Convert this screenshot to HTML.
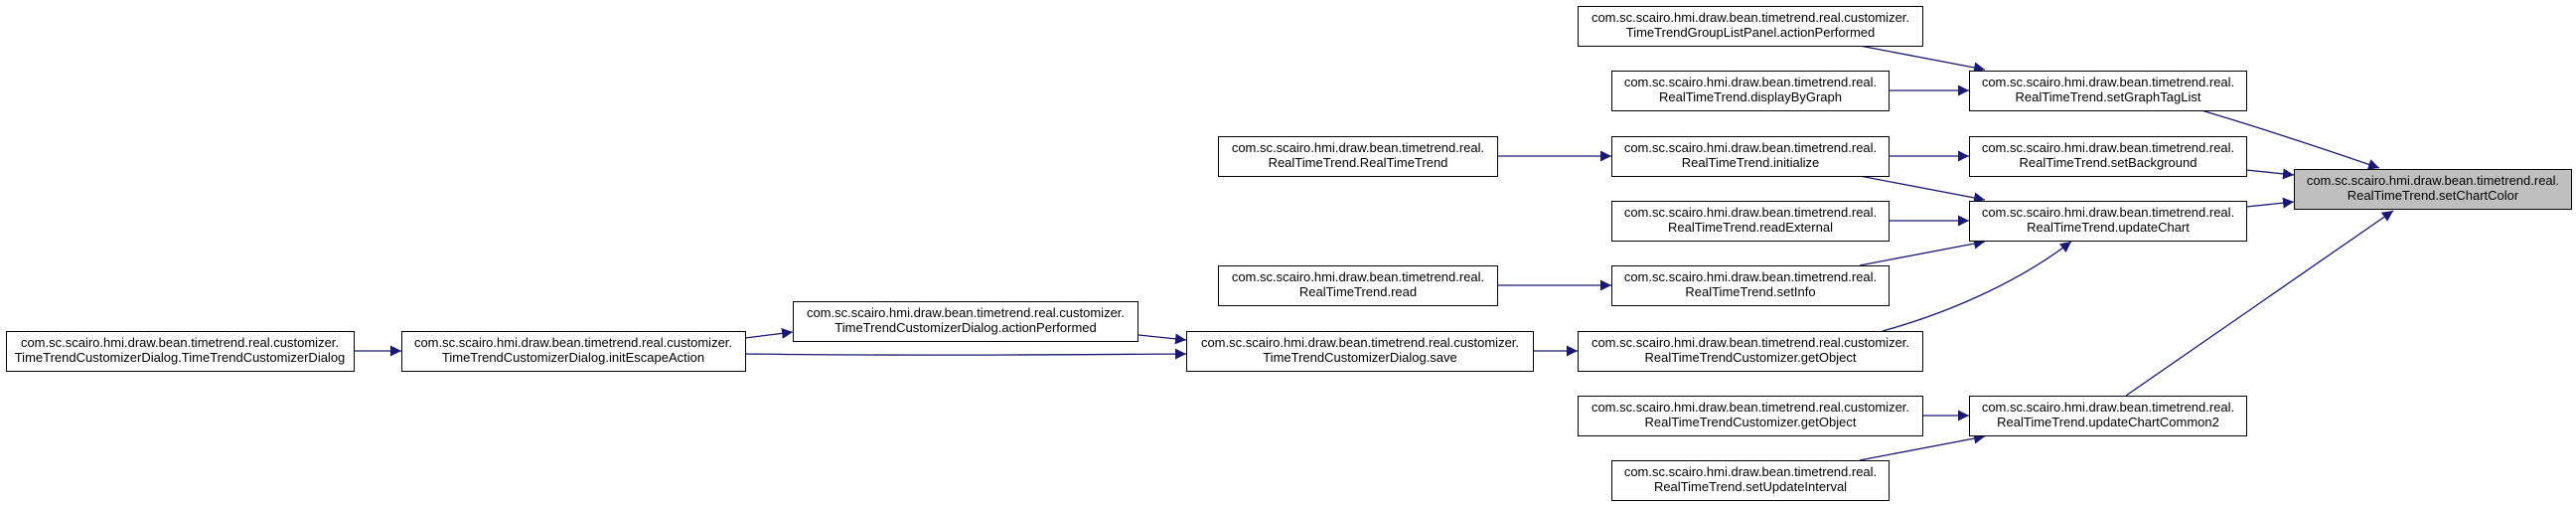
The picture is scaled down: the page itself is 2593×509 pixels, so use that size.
<!DOCTYPE html>
<html><head><meta charset="utf-8"><style>
html,body{margin:0;padding:0;background:#fff;}
svg{display:block;}
text{font-family:"Liberation Sans",Arial,sans-serif;font-size:13px;fill:#000;}
</style></head><body>
<svg width="2593" height="509" viewBox="0 0 2593 509" xmlns="http://www.w3.org/2000/svg">
<defs>
<marker id="a" viewBox="0 0 10 10" refX="10" refY="5" markerWidth="11" markerHeight="11" markerUnits="userSpaceOnUse" orient="auto">
<path d="M0,0 L10,5 L0,10 z" fill="#191970"/>
</marker>
</defs>
<g stroke="#191970" stroke-width="1.3" fill="none" marker-end="url(#a)">
<path d="M1872,46 L1998,70"/>
<path d="M1901,91 L1982,91"/>
<path d="M1507,157 L1622,157"/>
<path d="M1901,157 L1982,157"/>
<path d="M1872,177 L1998,201"/>
<path d="M1901,222 L1982,222"/>
<path d="M1872,267 L1998,243"/>
<path d="M1895,333 C1960,315 2030,285 2085,243"/>
<path d="M1507,287 L1622,287"/>
<path d="M1543,353 L1588,353"/>
<path d="M750,340 L798,334"/>
<path d="M1146,337 L1194,342"/>
<path d="M750,356 C900,358 1050,357 1194,356"/>
<path d="M356,353 L404,353"/>
<path d="M1935,418 L1982,418"/>
<path d="M1872,463 L1998,439"/>
<path d="M2216,111 C2280,130 2340,150 2395,169"/>
<path d="M2261,171 L2309,176"/>
<path d="M2261,208 L2309,203"/>
<path d="M2140,398 L2409,212"/>
</g>
<g stroke="#000" stroke-width="1" fill="#fff">
<rect x="1588.5" y="6.5" width="347" height="40"/>
<rect x="1622.5" y="71.5" width="279" height="40"/>
<rect x="1622.5" y="137.5" width="279" height="40"/>
<rect x="1622.5" y="202.5" width="279" height="40"/>
<rect x="1622.5" y="267.5" width="279" height="40"/>
<rect x="1588.5" y="333.5" width="347" height="40"/>
<rect x="1588.5" y="398.5" width="347" height="40"/>
<rect x="1622.5" y="463.5" width="279" height="40"/>
<rect x="1982.5" y="71.5" width="279" height="40"/>
<rect x="1982.5" y="137.5" width="279" height="40"/>
<rect x="1982.5" y="202.5" width="279" height="40"/>
<rect x="1982.5" y="398.5" width="279" height="40"/>
<rect x="2309.5" y="170.5" width="279" height="40" fill="#bfbfbf"/>
<rect x="1226.5" y="137.5" width="281" height="40"/>
<rect x="1226.5" y="267.5" width="281" height="40"/>
<rect x="798.5" y="303.5" width="347" height="40"/>
<rect x="1194.5" y="333.5" width="349" height="40"/>
<rect x="404.5" y="333.5" width="346" height="40"/>
<rect x="6.5" y="333.5" width="350" height="40"/>
</g>
<g text-anchor="middle">
<text x="1762" y="22">com.sc.scairo.hmi.draw.bean.timetrend.real.customizer.</text><text x="1762" y="37">TimeTrendGroupListPanel.actionPerformed</text>
<text x="1762" y="87">com.sc.scairo.hmi.draw.bean.timetrend.real.</text><text x="1762" y="102">RealTimeTrend.displayByGraph</text>
<text x="1762" y="153">com.sc.scairo.hmi.draw.bean.timetrend.real.</text><text x="1762" y="168">RealTimeTrend.initialize</text>
<text x="1762" y="218">com.sc.scairo.hmi.draw.bean.timetrend.real.</text><text x="1762" y="233">RealTimeTrend.readExternal</text>
<text x="1762" y="283">com.sc.scairo.hmi.draw.bean.timetrend.real.</text><text x="1762" y="298">RealTimeTrend.setInfo</text>
<text x="1762" y="349">com.sc.scairo.hmi.draw.bean.timetrend.real.customizer.</text><text x="1762" y="364">RealTimeTrendCustomizer.getObject</text>
<text x="1762" y="414">com.sc.scairo.hmi.draw.bean.timetrend.real.customizer.</text><text x="1762" y="429">RealTimeTrendCustomizer.getObject</text>
<text x="1762" y="479">com.sc.scairo.hmi.draw.bean.timetrend.real.</text><text x="1762" y="494">RealTimeTrend.setUpdateInterval</text>
<text x="2122" y="87">com.sc.scairo.hmi.draw.bean.timetrend.real.</text><text x="2122" y="102">RealTimeTrend.setGraphTagList</text>
<text x="2122" y="153">com.sc.scairo.hmi.draw.bean.timetrend.real.</text><text x="2122" y="168">RealTimeTrend.setBackground</text>
<text x="2122" y="218">com.sc.scairo.hmi.draw.bean.timetrend.real.</text><text x="2122" y="233">RealTimeTrend.updateChart</text>
<text x="2122" y="414">com.sc.scairo.hmi.draw.bean.timetrend.real.</text><text x="2122" y="429">RealTimeTrend.updateChartCommon2</text>
<text x="2449" y="186">com.sc.scairo.hmi.draw.bean.timetrend.real.</text><text x="2449" y="201">RealTimeTrend.setChartColor</text>
<text x="1367" y="153">com.sc.scairo.hmi.draw.bean.timetrend.real.</text><text x="1367" y="168">RealTimeTrend.RealTimeTrend</text>
<text x="1367" y="283">com.sc.scairo.hmi.draw.bean.timetrend.real.</text><text x="1367" y="298">RealTimeTrend.read</text>
<text x="972" y="319">com.sc.scairo.hmi.draw.bean.timetrend.real.customizer.</text><text x="972" y="334">TimeTrendCustomizerDialog.actionPerformed</text>
<text x="1369" y="349">com.sc.scairo.hmi.draw.bean.timetrend.real.customizer.</text><text x="1369" y="364">TimeTrendCustomizerDialog.save</text>
<text x="577" y="349">com.sc.scairo.hmi.draw.bean.timetrend.real.customizer.</text><text x="577" y="364">TimeTrendCustomizerDialog.initEscapeAction</text>
<text x="181" y="349">com.sc.scairo.hmi.draw.bean.timetrend.real.customizer.</text><text x="181" y="364">TimeTrendCustomizerDialog.TimeTrendCustomizerDialog</text>
</g>
</svg>
</body></html>
